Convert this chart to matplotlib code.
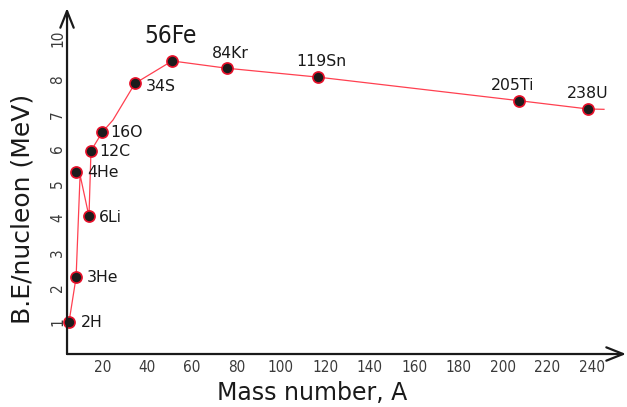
import matplotlib
matplotlib.use('Agg')
import matplotlib.pyplot as plt

# Nuclides marked on the curve (x positions and values)
nuclides = ['2H', '3He', '4He', '6Li', '12C', '16O', '34S', '56Fe', '84Kr', '119Sn', '205Ti', '238U']
mass_x = [4.7, 7.9, 7.9, 13.7, 14.6, 19.7, 34.4, 51.1, 75.6, 117.0, 207.3, 238.3]
be_per_nucleon = [0.99, 2.29, 5.34, 4.05, 5.95, 6.49, 7.90, 8.55, 8.34, 8.08, 7.40, 7.16]

# The red curve (touches 4He on its right side, bends after 16O, runs a bit past 238U)
curve_x = [4.7, 7.9, 9.7, 13.7, 14.6, 19.7, 24.5, 34.4, 51.1, 75.6, 117.0, 207.3, 238.3, 245.5]
curve_y = [0.99, 2.29, 5.25, 4.05, 5.95, 6.49, 6.84, 7.90, 8.55, 8.34, 8.08, 7.40, 7.16, 7.15]

x_ticks = [20, 40, 60, 80, 100, 120, 140, 160, 180, 200, 220, 240]
y_ticks = [1, 2, 3, 4, 5, 6, 7, 8, 9.2]
y_tick_labels = ['1', '2', '3', '4', '5', '6', '7', '8', '10']

# label placement (pixels from the point) and alignment
label_offsets = [(12, 0), (11, 0), (11, -1), (10, -1), (8, -1), (8, 0), (11, -3),
                 (-2, 18), (4, 10), (3, 11), (-7, 11), (0, 11)]
label_align = ['left'] * 7 + ['center'] * 5

fig = plt.figure(figsize=(6.27, 4.07), dpi=100)
ax = fig.add_axes([0.1069, 0.1302, 0.8915, 0.8500])

ax.plot(curve_x, curve_y, color='#ff4050', linewidth=0.9, zorder=2)
ax.plot(mass_x, be_per_nucleon, linestyle='', marker='o', markersize=8,
        markerfacecolor='#1c1c1c', markeredgecolor='#e8102a', markeredgewidth=1.2,
        zorder=3, clip_on=False)

for i, name in enumerate(nuclides):
    if name == '56Fe':
        size, va = 17.5, 'baseline'
    elif label_align[i] == 'center':
        size, va = 11.3, 'baseline'
    else:
        size, va = 11.3, 'center'
    ax.annotate(name, (mass_x[i], be_per_nucleon[i]), xytext=label_offsets[i],
                textcoords='offset pixels', ha=label_align[i], va=va,
                fontsize=size, color='#1a1a1a', zorder=4,
                fontstretch='condensed' if name == '56Fe' else 'normal')

ax.set_xlim(3.82, 255.4)
ax.set_ylim(0.07, 10.08)

for s in ax.spines.values():
    s.set_visible(False)

# axes drawn as arrows
arrow = dict(arrowstyle='->, head_length=0.6, head_width=0.24', lw=1.6,
             color='#1a1a1a', mutation_scale=20, shrinkA=0, shrinkB=0)
ax.annotate('', xy=(1.0, 0), xytext=(0, 0), xycoords='axes fraction', arrowprops=arrow)
ax.annotate('', xy=(0, 1.0), xytext=(0, 0), xycoords='axes fraction', arrowprops=arrow)

tick_font = ['Liberation Sans Narrow', 'DejaVu Sans']
ax.set_xticks(x_ticks)
ax.set_xticklabels([str(t) for t in x_ticks], family=tick_font, fontsize=11, color='#3a3a3a',
                   fontstretch='condensed')
ax.set_yticks(y_ticks)
ax.set_yticklabels(y_tick_labels, family=tick_font, fontsize=11, color='#3a3a3a', rotation=90,
                   va='center', fontstretch='condensed')
ax.tick_params(axis='both', length=0)
ax.tick_params(axis='x', pad=4)
ax.tick_params(axis='y', pad=1.5)

ax.set_xlabel('Mass number, A', fontsize=17, color='#1a1a1a')
ax.xaxis.set_label_coords(0.439, -0.078)
ax.set_ylabel('B.E/nucleon (MeV)', fontsize=18, color='#1a1a1a')
ax.yaxis.set_label_coords(-0.059, 0.42)

fig.savefig('out.png', dpi=100)
